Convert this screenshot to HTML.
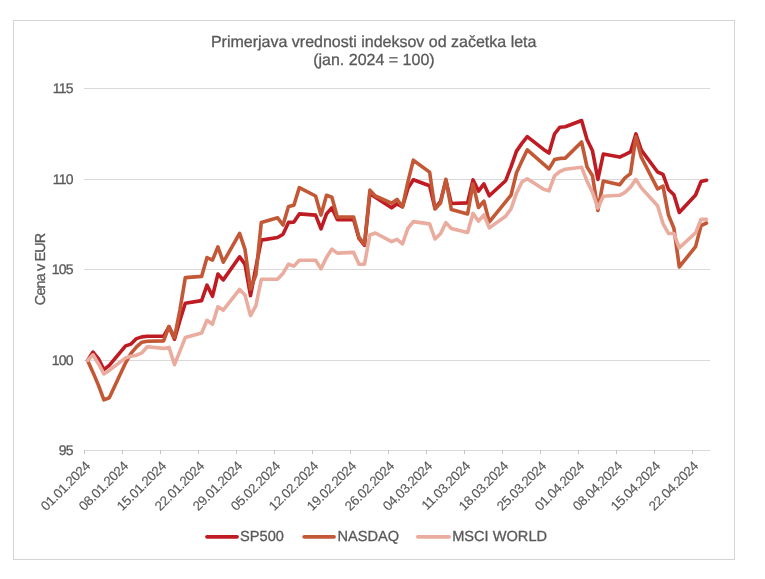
<!DOCTYPE html>
<html lang="sl">
<head>
<meta charset="utf-8">
<title>Primerjava vrednosti indeksov od začetka leta</title>
<style>
html,body{margin:0;padding:0;background:#fff;}
body{width:765px;height:579px;overflow:hidden;}
svg{display:block;}
svg text{font-family:"Liberation Sans",sans-serif;fill:#595959;stroke:#595959;stroke-width:0.3px;text-rendering:geometricPrecision;}
.t{font-size:16px;}
.a{font-size:14px;letter-spacing:-0.78px;}
.x{font-size:13.4px;letter-spacing:-0.4px;stroke-width:0.12px;}
.l{font-size:14.6px;}
.c{font-size:14.4px;letter-spacing:-0.85px;}
.ln{fill:none;stroke-width:3.6;stroke-linejoin:round;stroke-linecap:round;}
</style>
</head>
<body>
<svg width="765" height="579" viewBox="0 0 765 579">
<rect x="0" y="0" width="765" height="579" fill="#ffffff"/>
<rect x="13.5" y="20.5" width="721" height="539" fill="#ffffff" stroke="#D5D5D5" stroke-width="1"/>
<g fill="#D9D9D9" shape-rendering="crispEdges">
<rect x="84" y="88" width="626" height="1"/>
<rect x="84" y="179" width="626" height="1"/>
<rect x="84" y="269" width="626" height="1"/>
<rect x="84" y="360" width="626" height="1"/>
<rect x="84" y="450" width="626" height="1"/>
</g>
<g fill="#C4C4C4" shape-rendering="crispEdges">
<rect x="84" y="450" width="1" height="4"/>
<rect x="122" y="450" width="1" height="4"/>
<rect x="160" y="450" width="1" height="4"/>
<rect x="198" y="450" width="1" height="4"/>
<rect x="236" y="450" width="1" height="4"/>
<rect x="274" y="450" width="1" height="4"/>
<rect x="312" y="450" width="1" height="4"/>
<rect x="350" y="450" width="1" height="4"/>
<rect x="388" y="450" width="1" height="4"/>
<rect x="426" y="450" width="1" height="4"/>
<rect x="464" y="450" width="1" height="4"/>
<rect x="502" y="450" width="1" height="4"/>
<rect x="540" y="450" width="1" height="4"/>
<rect x="578" y="450" width="1" height="4"/>
<rect x="616" y="450" width="1" height="4"/>
<rect x="654" y="450" width="1" height="4"/>
<rect x="692" y="450" width="1" height="4"/>
</g>
<text class="t" x="373.7" y="47.2" text-anchor="middle">Primerjava vrednosti indeksov od začetka leta</text>
<text class="t" x="373.9" y="64.7" text-anchor="middle">(jan. 2024 = 100)</text>
<text class="a" x="72.7" y="93.1" text-anchor="end">115</text>
<text class="a" x="72.7" y="184.1" text-anchor="end">110</text>
<text class="a" x="72.7" y="274.1" text-anchor="end">105</text>
<text class="a" x="72.7" y="365.1" text-anchor="end">100</text>
<text class="a" x="72.7" y="455.1" text-anchor="end">95</text>
<text class="c" transform="translate(44.7,269.4) rotate(-90)" text-anchor="middle">Cena v EUR</text>
<text class="x" transform="translate(90.9,466.9) rotate(-45)" text-anchor="end">01.01.2024</text>
<text class="x" transform="translate(128.9,466.9) rotate(-45)" text-anchor="end">08.01.2024</text>
<text class="x" transform="translate(166.9,466.9) rotate(-45)" text-anchor="end">15.01.2024</text>
<text class="x" transform="translate(204.9,466.9) rotate(-45)" text-anchor="end">22.01.2024</text>
<text class="x" transform="translate(242.9,466.9) rotate(-45)" text-anchor="end">29.01.2024</text>
<text class="x" transform="translate(280.9,466.9) rotate(-45)" text-anchor="end">05.02.2024</text>
<text class="x" transform="translate(318.9,466.9) rotate(-45)" text-anchor="end">12.02.2024</text>
<text class="x" transform="translate(356.9,466.9) rotate(-45)" text-anchor="end">19.02.2024</text>
<text class="x" transform="translate(394.9,466.9) rotate(-45)" text-anchor="end">26.02.2024</text>
<text class="x" transform="translate(432.9,466.9) rotate(-45)" text-anchor="end">04.03.2024</text>
<text class="x" transform="translate(470.9,466.9) rotate(-45)" text-anchor="end">11.03.2024</text>
<text class="x" transform="translate(508.9,466.9) rotate(-45)" text-anchor="end">18.03.2024</text>
<text class="x" transform="translate(546.9,466.9) rotate(-45)" text-anchor="end">25.03.2024</text>
<text class="x" transform="translate(584.9,466.9) rotate(-45)" text-anchor="end">01.04.2024</text>
<text class="x" transform="translate(622.9,466.9) rotate(-45)" text-anchor="end">08.04.2024</text>
<text class="x" transform="translate(660.9,466.9) rotate(-45)" text-anchor="end">15.04.2024</text>
<text class="x" transform="translate(698.9,466.9) rotate(-45)" text-anchor="end">22.04.2024</text>
<polyline class="ln" stroke="#BF1B23" points="87.6,360.4 93.0,352.1 98.5,358.8 103.9,369.6 109.3,365.4 125.6,345.9 131.0,344.1 136.5,338.6 141.9,336.9 147.3,336.3 163.6,336.3 169.0,326.6 174.5,339.3 179.9,320.4 185.3,303.2 201.6,300.6 207.0,285.1 212.5,296.3 217.9,274.1 223.3,279.9 239.6,256.8 245.0,264.4 250.5,295.6 255.9,267.4 261.3,240.1 277.6,237.5 283.0,234.2 288.5,222.4 293.9,222.1 299.3,213.9 315.6,215.1 321.0,228.9 326.5,213.9 331.9,207.8 337.3,219.6 353.6,219.6 359.0,238.4 364.5,245.4 369.9,193.4 375.3,197.3 391.6,207.8 397.0,203.8 402.5,206.8 407.9,188.4 413.3,179.8 429.6,185.8 435.0,208.4 440.5,201.4 445.9,180.4 451.3,203.5 467.6,202.9 473.0,179.9 478.5,191.1 483.9,183.9 489.3,195.8 505.6,180.8 511.0,166.9 516.5,151.1 521.9,143.4 527.3,136.6 543.6,149.4 549.0,153.1 554.5,134.0 559.9,127.2 565.3,126.7 581.6,120.5 587.0,139.5 592.5,150.8 597.9,179.4 603.3,154.0 619.6,157.1 625.0,154.6 630.5,151.9 635.9,133.9 641.3,150.1 657.6,172.0 663.0,174.4 668.5,189.5 673.9,194.8 679.3,212.5 695.6,195.0 701.0,181.6 706.5,180.3"/>
<polyline class="ln" stroke="#C35836" points="87.6,360.4 93.0,372.4 98.5,385.4 103.9,399.9 109.3,397.8 125.6,362.8 131.0,353.3 136.5,346.8 141.9,342.2 147.3,341.3 163.6,340.9 169.0,326.6 174.5,337.6 179.9,310.1 185.3,277.6 201.6,276.4 207.0,257.6 212.5,260.1 217.9,246.9 223.3,262.2 239.6,233.4 245.0,249.4 250.5,288.9 255.9,274.9 261.3,222.4 277.6,217.8 283.0,225.0 288.5,206.6 293.9,205.3 299.3,187.6 315.6,196.0 321.0,215.1 326.5,195.3 331.9,197.3 337.3,217.0 353.6,217.0 359.0,237.3 364.5,244.4 369.9,190.1 375.3,196.0 391.6,203.2 397.0,199.4 402.5,206.8 407.9,181.9 413.3,160.2 429.6,172.1 435.0,209.0 440.5,203.1 445.9,179.3 451.3,209.5 467.6,214.0 473.0,183.9 478.5,207.5 483.9,201.2 489.3,221.9 505.6,201.9 511.0,195.2 516.5,172.8 521.9,161.0 527.3,149.8 543.6,164.2 549.0,168.8 554.5,159.6 559.9,158.4 565.3,158.1 581.6,142.0 587.0,166.9 592.5,175.8 597.9,210.4 603.3,181.0 619.6,184.8 625.0,177.9 630.5,173.6 635.9,136.9 641.3,157.2 657.6,188.9 663.0,186.2 668.5,215.1 673.9,228.2 679.3,266.9 695.6,246.6 701.0,225.6 706.5,223.0"/>
<polyline class="ln" stroke="#E9AC9F" points="87.6,360.4 93.0,354.8 98.5,363.9 103.9,373.9 109.3,370.4 125.6,357.9 131.0,356.2 136.5,355.2 141.9,352.8 147.3,346.8 163.6,348.4 169.0,347.4 174.5,364.6 179.9,351.1 185.3,337.6 201.6,333.1 207.0,320.3 212.5,324.3 217.9,306.8 223.3,310.1 239.6,289.4 245.0,295.1 250.5,315.6 255.9,305.6 261.3,279.3 277.6,279.1 283.0,273.4 288.5,264.2 293.9,266.1 299.3,260.2 315.6,260.2 321.0,268.8 326.5,257.4 331.9,249.1 337.3,253.1 353.6,252.4 359.0,264.2 364.5,264.2 369.9,235.0 375.3,233.0 391.6,241.6 397.0,239.4 402.5,243.8 407.9,228.4 413.3,221.6 429.6,223.9 435.0,239.0 440.5,233.8 445.9,222.6 451.3,228.5 467.6,232.4 473.0,213.4 478.5,221.2 483.9,214.8 489.3,227.9 505.6,216.2 511.0,209.0 516.5,193.2 521.9,182.0 527.3,178.8 543.6,189.3 549.0,190.8 554.5,175.8 559.9,171.5 565.3,169.2 581.6,167.2 587.0,181.2 592.5,192.4 597.9,208.1 603.3,196.3 619.6,195.3 625.0,192.4 630.5,187.1 635.9,179.4 641.3,187.9 657.6,205.8 663.0,223.6 668.5,233.5 673.9,233.5 679.3,247.9 695.6,232.8 701.0,219.4 706.5,219.4"/>
<line x1="207" y1="536.8" x2="237" y2="536.8" stroke="#BF1B23" stroke-width="3.8" stroke-linecap="round"/>
<text class="l" x="240.1" y="541.3">SP500</text>
<line x1="304.2" y1="536.8" x2="334" y2="536.8" stroke="#C35836" stroke-width="3.8" stroke-linecap="round"/>
<text class="l" x="337.5" y="541.3">NASDAQ</text>
<line x1="417.9" y1="536.8" x2="449" y2="536.8" stroke="#E9AC9F" stroke-width="3.8" stroke-linecap="round"/>
<text class="l" x="452.2" y="541.3">MSCI WORLD</text>
</svg>
</body>
</html>
